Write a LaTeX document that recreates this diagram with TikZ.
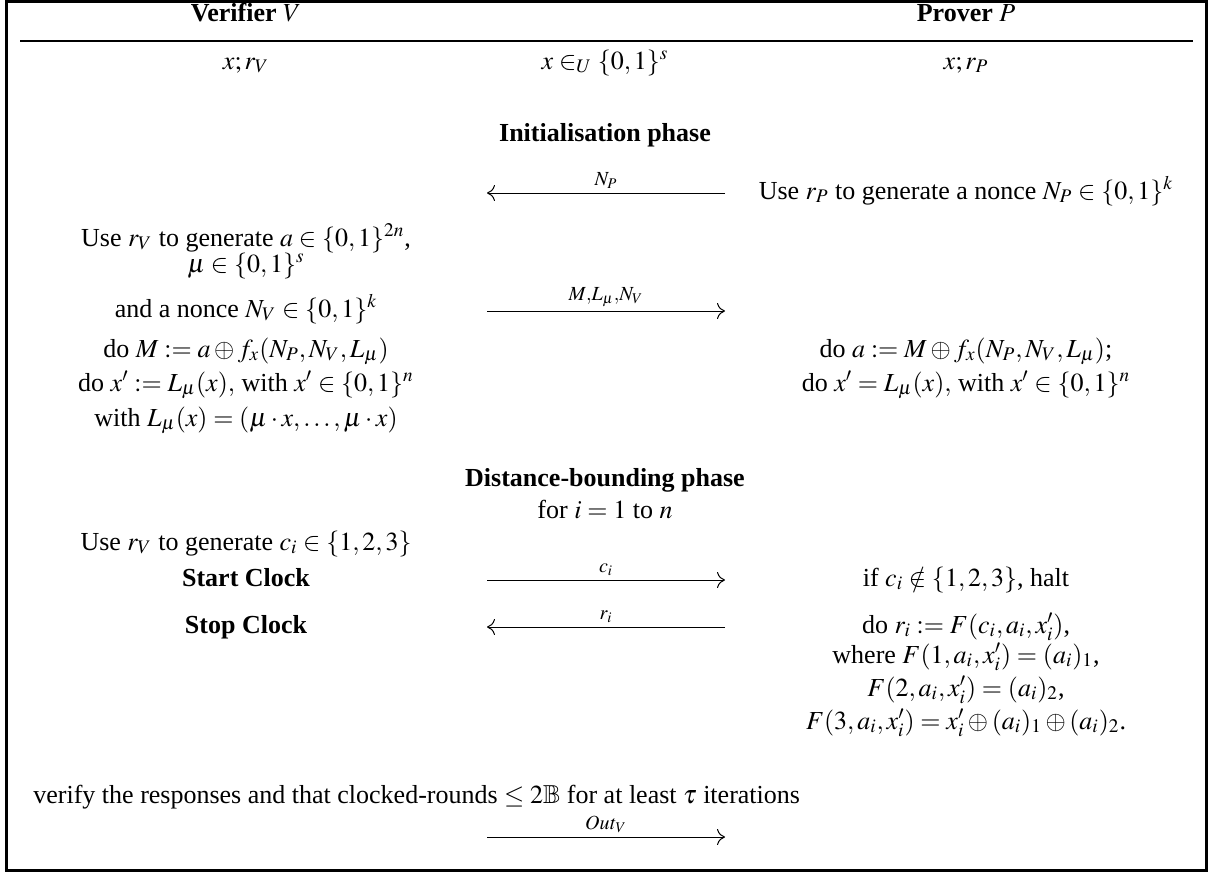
\documentclass[tikz,border=0pt]{standalone}
\usepackage{amsmath,amssymb}
\usepackage{mathptmx}
\usepackage{fontspec}
\setmainfont{Liberation Serif}
\usetikzlibrary{arrows.meta}
\begin{document}
\begin{tikzpicture}[x=0.5pt,y=-0.5pt,
  txt/.style={anchor=base,inner sep=0pt,font=\fontsize{13}{15}\selectfont},
  hd/.style={anchor=base,inner sep=0pt,font=\fontsize{13}{15}\selectfont\bfseries},
  lbl/.style={inner sep=0pt,font=\fontsize{10}{11}\selectfont},
  msg/.style={-{Computer Modern Rightarrow[length=4pt,width=8pt]}, line width=0.5pt}]
\useasboundingbox (0,0) rectangle (1208,873);
\draw[line width=1.3pt] (6.5,1.5) rectangle (1206.5,870.5);
% header
\node[hd] (hv) at (246,21) {Verifier $V$};
\node[hd] (hp) at (966,21) {Prover $P$};
\coordinate (rl) at (20,40.7);
\coordinate (rr) at (1193,40.7);
\draw[line width=1pt] (rl) -- (rr);
\node[txt] (xv) at (246,69) {$x;r_V$};
\node[txt] (xu) at (605,69) {$x\in_U\{0,1\}^s$};
\node[txt] (xp) at (966,69) {$x;r_P$};
% init
\node[hd] (ini) at (605,141) {Initialisation phase};
\node[txt] (p1) at (966,199) {Use $r_P$ to generate a nonce $N_P\in\{0,1\}^k$};
\coordinate (a1s) at (725,193);
\coordinate (a1e) at (487,193);
\draw[msg] (a1s) -- node[lbl,above=2pt] (l1) {$N_P$} (a1e);
\node[txt] (v1) at (246,246) {Use $r_V$ to generate $a\in\{0,1\}^{2n}$,};
\node[txt] (v2) at (246,272) {$\mu\in\{0,1\}^s$};
\node[txt] (v3) at (246,317) {and a nonce $N_V\in\{0,1\}^k$};
\coordinate (a2s) at (487,311);
\coordinate (a2e) at (725,311);
\draw[msg] (a2s) -- node[lbl,above=2pt] (l2) {$M{,}L_\mu{,}N_V$} (a2e);
\node[txt] (v4) at (246,357) {do $M:=a\oplus f_x(N_P,N_V,L_\mu)$};
\node[txt] (v5) at (246,391) {do $x':=L_\mu(x),$ with $x'\in\{0,1\}^n$};
\node[txt] (v6) at (246,426) {with $L_\mu(x)=(\mu\cdot x,\ldots,\mu\cdot x)$};
\node[txt] (p2) at (966,357) {do $a:=M\oplus f_x(N_P,N_V,L_\mu)$;};
\node[txt] (p3) at (966,391) {do $x'=L_\mu(x),$ with $x'\in\{0,1\}^n$};
% distance bounding
\node[hd] (db) at (605,486) {Distance-bounding phase};
\node[txt] (fr) at (605,518) {for $i=1$ to $n$};
\node[txt] (v7) at (246,550) {Use $r_V$ to generate $c_i\in\{1,2,3\}$};
\node[hd] (sc) at (246,586) {Start Clock};
\coordinate (a3s) at (487,580);
\coordinate (a3e) at (725,580);
\draw[msg] (a3s) -- node[lbl,above=2pt] (l3) {$c_i$} (a3e);
\node[txt] (p4) at (966,586) {if $c_i\notin\{1,2,3\}$, halt};
\node[hd] (st) at (246,633) {Stop Clock};
\coordinate (a4s) at (725,627);
\coordinate (a4e) at (487,627);
\draw[msg] (a4s) -- node[lbl,above=2pt] (l4) {$r_i$} (a4e);
\node[txt] (p5) at (966,633) {do $r_i:=F(c_i,a_i,x'_i)$,};
\node[txt] (p6) at (966,663) {where $F(1,a_i,x'_i)=(a_i)_1$,};
\node[txt] (p7) at (966,696) {$F(2,a_i,x'_i)=(a_i)_2$,};
\node[txt] (p8) at (966,729) {$F(3,a_i,x'_i)=x'_i\oplus(a_i)_1\oplus(a_i)_2$.};
\node[txt,anchor=base west] (vf) at (33,803) {verify the responses and that clocked-rounds $\leq 2\mathbb{B}$ for at least $\tau$ iterations};
\coordinate (a5s) at (487,837);
\coordinate (a5e) at (725,837);
\draw[msg] (a5s) -- node[lbl,above=2pt] (l5) {$\mathit{Out}_V$} (a5e);
\end{tikzpicture}
\end{document}
